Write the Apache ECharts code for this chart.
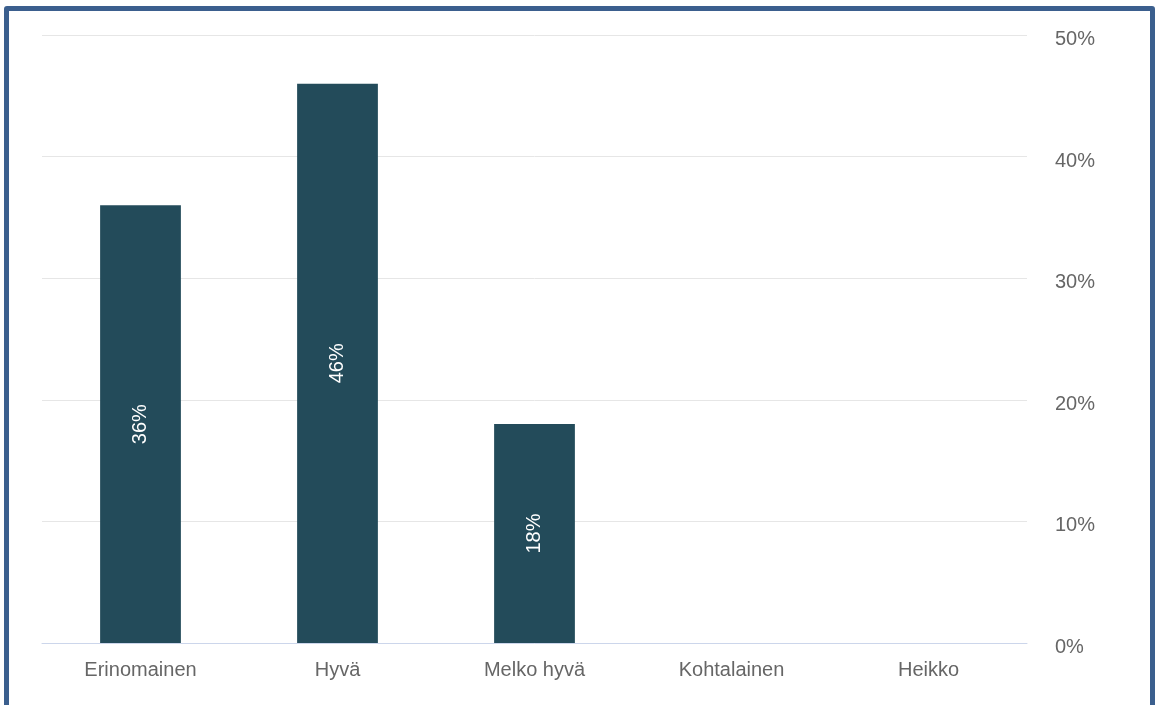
<!DOCTYPE html>
<html>
<head>
<meta charset="utf-8">
<script src="https://cdn.jsdelivr.net/npm/echarts@6/dist/echarts.min.js"></script>
<style>
  html, body { margin: 0; padding: 0; background: #ffffff; }
  body { width: 1155px; height: 705px; position: relative; overflow: hidden; }
  #frame {
    position: absolute; left: 4px; top: 6px; width: 1151px; height: 720px;
    border: 5px solid #3b5f8e; border-radius: 3px; box-sizing: border-box;
  }
  #chart { position: absolute; left: 0; top: 0; width: 1155px; height: 705px; }
</style>
</head>
<body>
<div id="chart"></div>
<div id="frame"></div>
<script>
// Arvosanat ja vastausten osuudet (%)
const categories = ['Erinomainen', 'Hyvä', 'Melko hyvä', 'Kohtalainen', 'Heikko'];
const shares = [36, 46, 18, 0, 0];
const yTicks = [0, 10, 20, 30, 40, 50];

const FONT = '"Liberation Sans", Arial, Helvetica, sans-serif';
const chart = echarts.init(document.getElementById('chart'), null, { renderer: 'canvas' });

chart.setOption({
  animation: false,
  grid: { left: 42, right: 128, top: 35, bottom: 62, containLabel: false },
  xAxis: {
    type: 'category',
    data: categories,
    axisLine: { show: true, lineStyle: { color: '#ccd6eb', width: 1 } },
    axisTick: { show: false },
    axisLabel: { color: '#666666', fontSize: 20, margin: 17, fontFamily: FONT }
  },
  yAxis: {
    type: 'value',
    position: 'right',
    min: yTicks[0],
    max: yTicks[yTicks.length - 1],
    interval: yTicks[1] - yTicks[0],
    axisLine: { show: false },
    axisTick: { show: false },
    splitLine: { lineStyle: { color: '#e6e6e6', width: 1 } },
    axisLabel: {
      margin: 28,
      formatter: v => '{p|' + v + '%}',
      rich: {
        p: { color: '#666666', fontSize: 20, fontFamily: FONT, padding: [9, 0, 0, 0] }
      }
    }
  },
  series: [{
    type: 'bar',
    data: shares,
    barWidth: '41%',
    itemStyle: { color: '#234b5a', borderWidth: 0 },
    label: {
      show: true,
      position: 'inside',
      rotate: 90,
      color: '#ffffff',
      fontSize: 20,
      fontFamily: FONT,
      formatter: p => (p.value > 0 ? p.value + '%' : '')
    }
  }]
});
</script>
</body>
</html>
